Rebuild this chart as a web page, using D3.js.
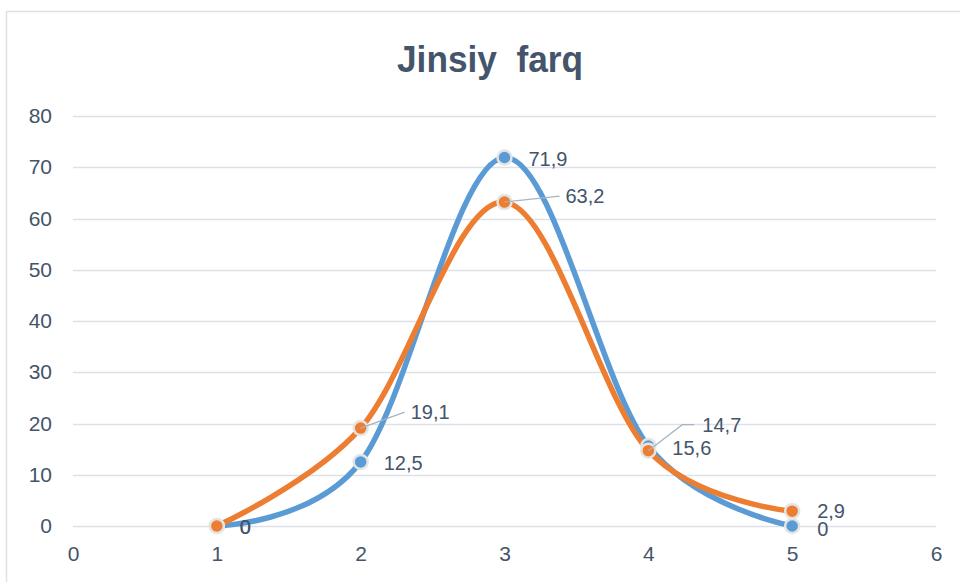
<!DOCTYPE html>
<html><head><meta charset="utf-8">
<script src="https://cdn.jsdelivr.net/npm/d3@7"></script>
<style>body{margin:0;background:#fff}svg{display:block}</style>
</head><body>
<svg id="c" width="960" height="582"></svg>
<script>
const title = "Jinsiy  farq";
const xValues = [1, 2, 3, 4, 5];
const seriesBlue = [0, 12.5, 71.9, 15.6, 0];
const seriesOrange = [0, 19.1, 63.2, 14.7, 2.9];
const labelsBlue = ["0", "12,5", "71,9", "15,6", "0"];
const labelsOrange = ["0", "19,1", "63,2", "14,7", "2,9"];
const yTicks = [0, 10, 20, 30, 40, 50, 60, 70, 80];
const xTicks = [0, 1, 2, 3, 4, 5, 6];

const svg = d3.select("#c");
const txt = "#44546A";
const font = "'Liberation Sans', Arial, sans-serif";

svg.append("rect").attr("x", 6.5).attr("y", 11.5).attr("width", 1000).attr("height", 1000)
  .attr("fill", "#fff").attr("stroke", "#DCE1E8").attr("stroke-width", 1.5);

svg.append("text").attr("x", 490).attr("y", 72).attr("text-anchor", "middle")
  .attr("font-family", font).attr("font-weight", "bold").attr("font-size", 37)
  .attr("fill", txt).style("white-space", "pre")
  .attr("textLength", 186).attr("lengthAdjust", "spacingAndGlyphs")
  .text(title);

const x = d3.scaleLinear().domain([0, 6]).range([73, 936]);
const y = d3.scaleLinear().domain([0, 80]).range([526, 116]);

svg.append("g").selectAll("line").data(yTicks).join("line")
  .attr("x1", x(0)).attr("x2", x(6))
  .attr("y1", d => Math.round(y(d)) + 0.5).attr("y2", d => Math.round(y(d)) + 0.5)
  .attr("stroke", "#DDE1E7").attr("stroke-width", 1.5);

const yAxis = d3.axisLeft(y).tickValues(yTicks).tickFormat(d3.format("d")).tickSize(0).tickPadding(21);
const gy = svg.append("g").attr("transform", `translate(${x(0)},0)`).call(yAxis);
gy.select(".domain").remove();
gy.selectAll("text").attr("font-family", font).attr("font-size", 21).attr("fill", txt);

const xAxis = d3.axisBottom(x).tickValues(xTicks).tickFormat(d3.format("d")).tickSize(0).tickPadding(20);
const gx = svg.append("g").attr("transform", `translate(0,${y(0)})`).call(xAxis);
gx.select(".domain").remove();
gx.selectAll("text").attr("font-family", font).attr("font-size", 21).attr("fill", txt);

const line = d3.line().x(d => x(d[0])).y(d => y(d[1])).curve(d3.curveCardinal.tension(0));

const series = [
  {vals: seriesBlue, labels: labelsBlue, color: "#5B9BD5"},
  {vals: seriesOrange, labels: labelsOrange, color: "#ED7D31"}
];

series.forEach(s => {
  const pts = xValues.map((xv, i) => [xv, s.vals[i]]);
  svg.append("path").attr("d", line(pts)).attr("fill", "none")
    .attr("stroke", s.color).attr("stroke-width", 5.5).attr("stroke-linecap", "round");
});
series.forEach(s => {
  const pts = xValues.map((xv, i) => [xv, s.vals[i]]);
  svg.append("g").selectAll("circle").data(pts).join("circle")
    .attr("cx", d => x(d[0])).attr("cy", d => y(d[1])).attr("r", 7)
    .attr("fill", s.color).attr("stroke", "#E4E4E4").attr("stroke-width", 2.5);
});

const offBlue = [[23, 1, 0], [23, 1, 0], [24, 1, 0], [24, 2, 0], [25, 3, 0]];
const offOrange = [[23, 1, 0], [50, -16, 1], [61, -6, 1], [54, -26, 2], [25, 0, 0]];

function labels(s, off) {
  xValues.forEach((xv, i) => {
    const px = x(xv), py = y(s.vals[i]);
    const [dx, dy, leader] = off[i];
    const tx = px + dx, ty = py + dy;
    if (leader === 1) {
      svg.append("line").attr("x1", px).attr("y1", py).attr("x2", tx - 6).attr("y2", ty)
        .attr("stroke", "#A6B4C4").attr("stroke-width", 1.2);
    } else if (leader === 2) {
      svg.append("polyline").attr("points", `${px},${py} ${px + 34},${ty} ${tx - 8},${ty}`)
        .attr("fill", "none").attr("stroke", "#A6B4C4").attr("stroke-width", 1.2);
    }
    svg.append("text").attr("x", tx).attr("y", ty).attr("dy", "0.35em")
      .attr("font-family", font).attr("font-size", 20).attr("fill", txt)
      .text(s.labels[i]);
  });
}
labels(series[0], offBlue);
labels(series[1], offOrange);
</script>
</body></html>
